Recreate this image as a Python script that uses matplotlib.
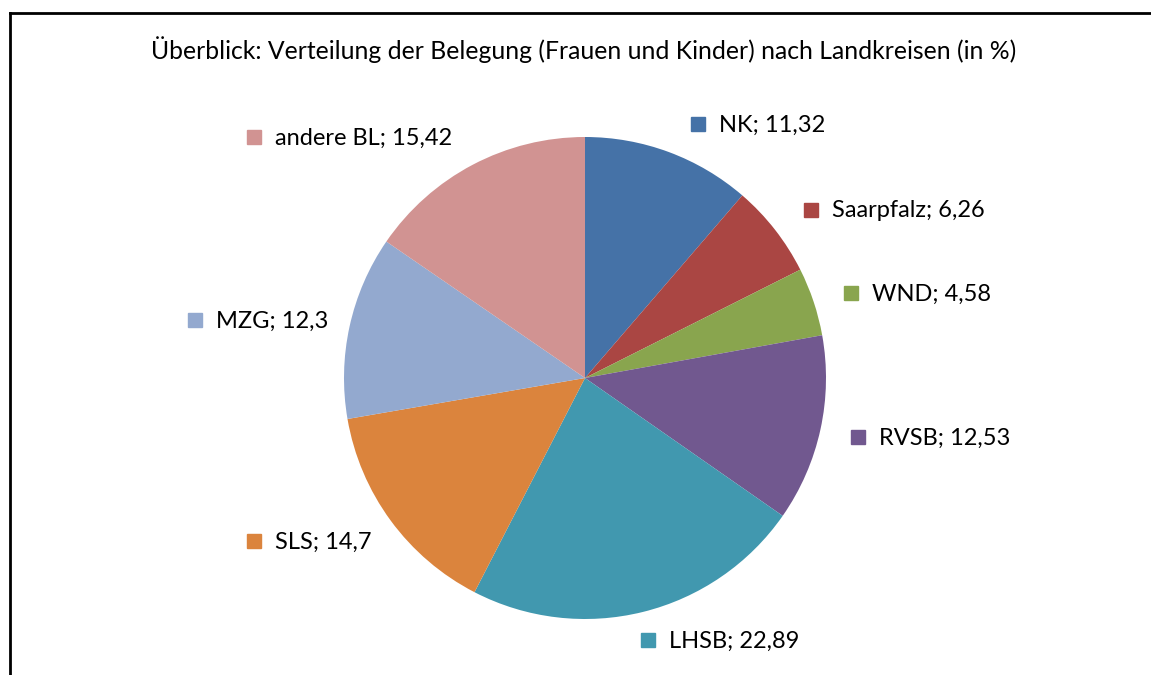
import matplotlib
matplotlib.use("Agg")
import matplotlib.pyplot as plt
from matplotlib.lines import Line2D

categories = ["NK", "Saarpfalz", "WND", "RVSB", "LHSB", "SLS", "MZG", "andere BL"]
values = [11.32, 6.26, 4.58, 12.53, 22.89, 14.7, 12.3, 15.42]
value_labels = ["11,32", "6,26", "4,58", "12,53", "22,89", "14,7", "12,3", "15,42"]
colors = ["#4572A7", "#AA4643", "#89A54E", "#71588F", "#4198AF", "#DB843D", "#93A9CF", "#D19392"]
title = "Überblick: Verteilung der Belegung (Frauen und Kinder) nach Landkreisen (in %)"

# label anchor positions in pixels (marker left x, center y)
label_pos = [(691, 124), (804, 210), (844, 293), (851, 437), (641, 640), (247, 541), (188, 320), (247, 137)]

W, H = 1151, 675
fig = plt.figure(figsize=(W / 100, H / 100), dpi=100)
plt.rcParams['font.family'] = ['Lato', 'DejaVu Sans']

cx, cy, r = 585, 378, 241
ax = fig.add_axes([(cx - r) / W, (H - cy - r) / H, 2 * r / W, 2 * r / H])
ax.pie(values, colors=colors, startangle=90, counterclock=False, radius=1,
       wedgeprops=dict(linewidth=0))
ax.set_xlim(-1, 1)
ax.set_ylim(-1, 1)
ax.set_aspect('equal')
ax.axis('off')

fig.text(584 / W, 1 - 50 / H, title, ha='center', va='center', fontsize=17.8, color='black')

for (x, y), cat, lab, col in zip(label_pos, categories, value_labels, colors):
    fig.patches.append(plt.Rectangle(((x) / W, 1 - (y + 7) / H), 14 / W, 14 / H,
                                     transform=fig.transFigure, color=col, figure=fig))
    fig.text((x + 28) / W, 1 - (y + 1) / H, f"{cat}; {lab}", ha='left', va='center',
             fontsize=17, color='black')

# border
fig.add_artist(Line2D([10 / W, 10 / W], [0, 1 - 13 / H], transform=fig.transFigure, color='black', lw=2))
fig.add_artist(Line2D([10 / W, 1], [1 - 13 / H, 1 - 13 / H], transform=fig.transFigure, color='black', lw=2))

fig.savefig("out.png", dpi=100)
